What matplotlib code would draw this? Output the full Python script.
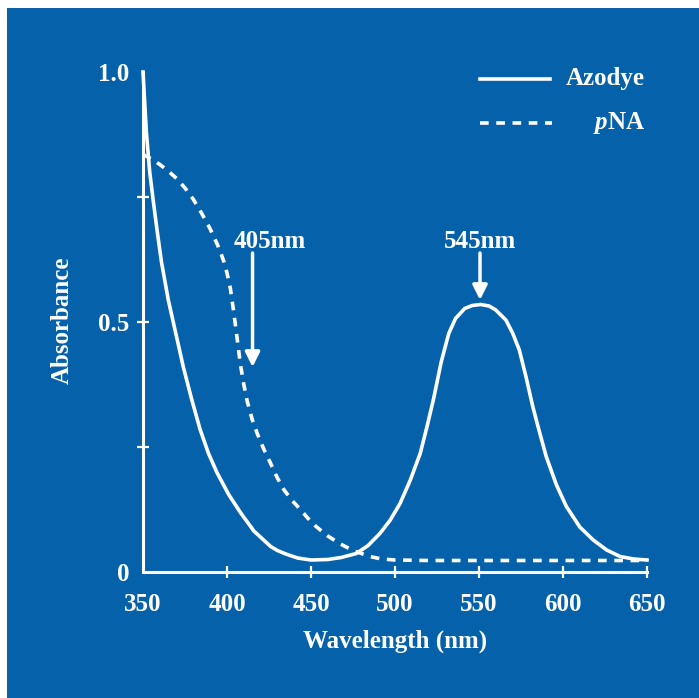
import numpy as np
import matplotlib.pyplot as plt
from matplotlib.patches import Rectangle

# valores
wl_azo = [350, 352, 354, 356, 358.5, 361, 365, 368, 374, 379, 384, 389, 394, 401, 408, 416,
          426, 430, 435, 442, 450, 460, 468, 477, 484, 491, 497, 503, 509, 515, 519, 523, 527.5,
          532, 536, 541.5, 546, 551, 556, 560, 566, 570, 574, 578, 582, 586, 590, 596, 602, 610,
          618, 626, 634, 642, 650]
abs_azo = [1.0, 0.88, 0.80, 0.745, 0.68, 0.62, 0.545, 0.50, 0.41, 0.345, 0.285, 0.237, 0.199, 0.155, 0.119, 0.082,
           0.051, 0.043, 0.036, 0.028, 0.024, 0.025, 0.029, 0.037, 0.053, 0.077, 0.103, 0.137, 0.183, 0.237, 0.29, 0.347, 0.42,
           0.477, 0.507, 0.527, 0.533, 0.535, 0.532, 0.524, 0.504, 0.478, 0.444, 0.39, 0.331, 0.28, 0.231, 0.175, 0.131, 0.09,
           0.064, 0.044, 0.031, 0.026, 0.024]

wl_pna = [350, 355, 360, 365, 370, 375, 380, 385, 390, 394, 396, 398, 400, 402, 404, 406, 408,
          410, 412, 415, 418, 422, 426, 430, 434, 439, 444, 448, 453, 460, 467, 475, 485, 492,
          500, 520, 650]
abs_pna = [0.835, 0.826, 0.815, 0.802, 0.787, 0.768, 0.745, 0.717, 0.686, 0.657, 0.641, 0.622, 0.598, 0.567, 0.52, 0.468, 0.415,
           0.375, 0.342, 0.305, 0.277, 0.245, 0.217, 0.188, 0.164, 0.142, 0.124, 0.108, 0.091, 0.072, 0.057, 0.043, 0.031, 0.026,
           0.024, 0.023, 0.023]

x_ticks = [350, 400, 450, 500, 550, 600, 650]
y_ticks = [0, 0.25, 0.5, 0.75, 1.0]
y_ticklabels = ['0', '', '0.5', '', '1.0']

azul = '#0561a9'
fonte = 'Liberation Serif'
plt.rcParams['mathtext.fontset'] = 'custom'
plt.rcParams['mathtext.it'] = 'Liberation Serif:italic:bold'

fig = plt.figure(figsize=(6.99, 6.98), dpi=100, facecolor='white')
fundo = Rectangle((7/699, 0), 1, 1 - 8/698, transform=fig.transFigure,
                  facecolor=azul, edgecolor='none')
fundo.set_zorder(-10)
fig.add_artist(fundo)

ax = fig.add_axes([143/699, 1 - 572/698, 504/699, 500/698])
ax.set_facecolor('none')

ax.plot(wl_azo, abs_azo, color='white', lw=2.6, clip_on=False, solid_joinstyle='round')
ax.plot(wl_pna, abs_pna, color='white', lw=2.6, clip_on=False, dashes=(2.4, 2.1),
        dash_capstyle='butt')

ax.set_xlim(350, 650)
ax.set_ylim(0, 1)

for s in ['top', 'right']:
    ax.spines[s].set_visible(False)
for s in ['left', 'bottom']:
    ax.spines[s].set_color('white')
    ax.spines[s].set_linewidth(2.2)

ax.set_xticks(x_ticks)
ax.set_yticks(y_ticks)
ax.set_yticklabels(y_ticklabels)
ax.tick_params(direction='inout', length=8, width=1.6, color='white', labelcolor='white',
               labelsize=18)
ax.tick_params(axis='x', pad=11)
ax.tick_params(axis='y', pad=6)
ax.yaxis.get_major_ticks()[-1].tick1line.set_visible(False)
ax.xaxis.get_major_ticks()[0].tick1line.set_visible(False)
ax.yaxis.get_major_ticks()[0].tick1line.set_visible(False)
for lab in ax.get_xticklabels() + ax.get_yticklabels():
    lab.set_fontfamily(fonte)
    lab.set_fontweight('bold')

ax.text(0.5, -0.138, 'Wavelength (nm)', transform=ax.transAxes, ha='center', va='center',
        color='white', fontsize=18, fontweight='bold', family=fonte)
ax.text(-0.16, 0.504, 'Absorbance', transform=ax.transAxes, ha='center', va='center',
        rotation=90, color='white', fontsize=18, fontweight='bold', family=fonte)

# setas
seta = dict(arrowstyle='-|>', lw=2.5, color='white', mutation_scale=22, shrinkA=0, shrinkB=0)
ax.annotate('', xy=(415.2, 0.41), xytext=(415.2, 0.638), arrowprops=seta)
ax.text(425.6, 0.662, '405nm', ha='center', va='center', color='white', fontsize=18,
        fontweight='bold', family=fonte)
ax.annotate('', xy=(550.6, 0.544), xytext=(550.6, 0.638), arrowprops=seta)
ax.text(550.6, 0.662, '545nm', ha='center', va='center', color='white', fontsize=18,
        fontweight='bold', family=fonte)

# legenda
ax.plot([0.669, 0.808], [0.986, 0.986], transform=ax.transAxes, color='white', lw=2.6, clip_on=False)
ax.plot([0.669, 0.812], [0.898, 0.898], transform=ax.transAxes, color='white', lw=2.6,
        dashes=(2.4, 2.1), dash_capstyle='butt', clip_on=False)
ax.text(0.996, 0.986, 'Azodye', transform=ax.transAxes, ha='right', va='center', color='white',
        fontsize=18, fontweight='bold', family=fonte)
ax.text(0.996, 0.898, r'$\mathit{p}$NA', transform=ax.transAxes, ha='right', va='center',
        color='white', fontsize=18, fontweight='bold', family=fonte)

fig.savefig('out.png', dpi=100, facecolor='white')
